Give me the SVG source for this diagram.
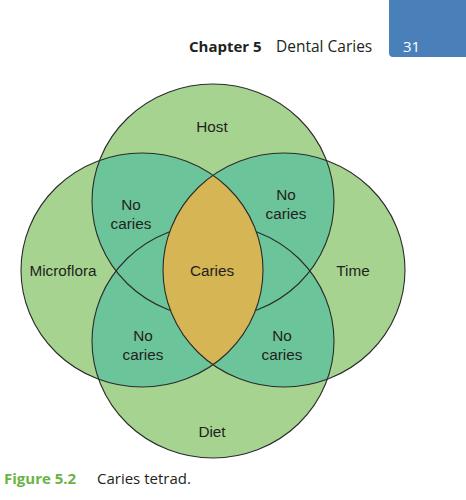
<svg xmlns="http://www.w3.org/2000/svg" width="466" height="500" viewBox="0 0 466 500">
<style>
.lbl{font-family:"Liberation Sans",Arial,sans-serif;font-size:15.3px;fill:#231f20;text-anchor:middle}
.hdr{font-family:"Open Sans","Noto Sans",sans-serif;font-size:15px;fill:#231f20}
.ln{fill:none;stroke:#2b2b2b;stroke-width:1.1}
.lt{fill:#a6d490}
.dk{fill:#6cc49a}
.gd{fill:#d5b554}
</style>
<defs>
<ellipse id="eH" cx="213" cy="201" rx="121" ry="117"/>
<ellipse id="eD" cx="213" cy="341" rx="121" ry="117"/>
<ellipse id="eM" cx="142" cy="270" rx="121" ry="117"/>
<ellipse id="eT" cx="284" cy="270" rx="121" ry="117"/>
<clipPath id="cH"><use href="#eH"/></clipPath>
<clipPath id="cD"><use href="#eD"/></clipPath>
<clipPath id="cT"><use href="#eT"/></clipPath>
</defs>
<rect width="466" height="500" fill="#ffffff"/>
<g id="header">
<path d="M389 0 H466 V57 H393 A4 4 0 0 1 389 53 Z" fill="#4a80ba"/>
<text x="403" y="52" class="hdr" style="fill:#ffffff">31</text>
<text x="189" y="52" class="hdr"><tspan font-weight="bold">Chapter 5</tspan><tspan x="276" font-size="15.5">Dental Caries</tspan></text>
</g>
<g id="fills">
<use href="#eH" class="lt"/>
<use href="#eD" class="lt"/>
<use href="#eM" class="lt"/>
<use href="#eT" class="lt"/>
<g class="dk">
<use href="#eM" clip-path="url(#cH)"/>
<use href="#eM" clip-path="url(#cD)"/>
<use href="#eT" clip-path="url(#cH)"/>
<use href="#eT" clip-path="url(#cD)"/>
<use href="#eH" clip-path="url(#cD)"/>
</g>
</g>
<g id="connectors">
<use href="#eH" class="ln"/>
<use href="#eD" class="ln"/>
</g>
<g id="caries-lens">
<use href="#eM" class="gd" clip-path="url(#cT)"/>
</g>
<g id="outlines">
<use href="#eM" class="ln"/>
<use href="#eT" class="ln"/>
</g>
<g id="host"><text x="212" y="132" class="lbl">Host</text></g>
<g id="microflora"><text x="63" y="276" class="lbl">Microflora</text></g>
<g id="time"><text x="353" y="276" class="lbl">Time</text></g>
<g id="diet"><text x="212" y="437" class="lbl">Diet</text></g>
<g id="caries"><text x="212" y="276" class="lbl">Caries</text></g>
<g id="nc-tl"><text x="131" y="210" class="lbl">No</text><text x="131" y="229" class="lbl">caries</text></g>
<g id="nc-tr"><text x="286" y="200" class="lbl">No</text><text x="286" y="219" class="lbl">caries</text></g>
<g id="nc-bl"><text x="143" y="341" class="lbl">No</text><text x="143" y="360" class="lbl">caries</text></g>
<g id="nc-br"><text x="282" y="341" class="lbl">No</text><text x="282" y="360" class="lbl">caries</text></g>
<g id="caption">
<text x="4" y="484" class="hdr"><tspan font-weight="bold" style="fill:#6ab344">Figure 5.2</tspan><tspan x="97">Caries tetrad.</tspan></text>
</g>
</svg>
